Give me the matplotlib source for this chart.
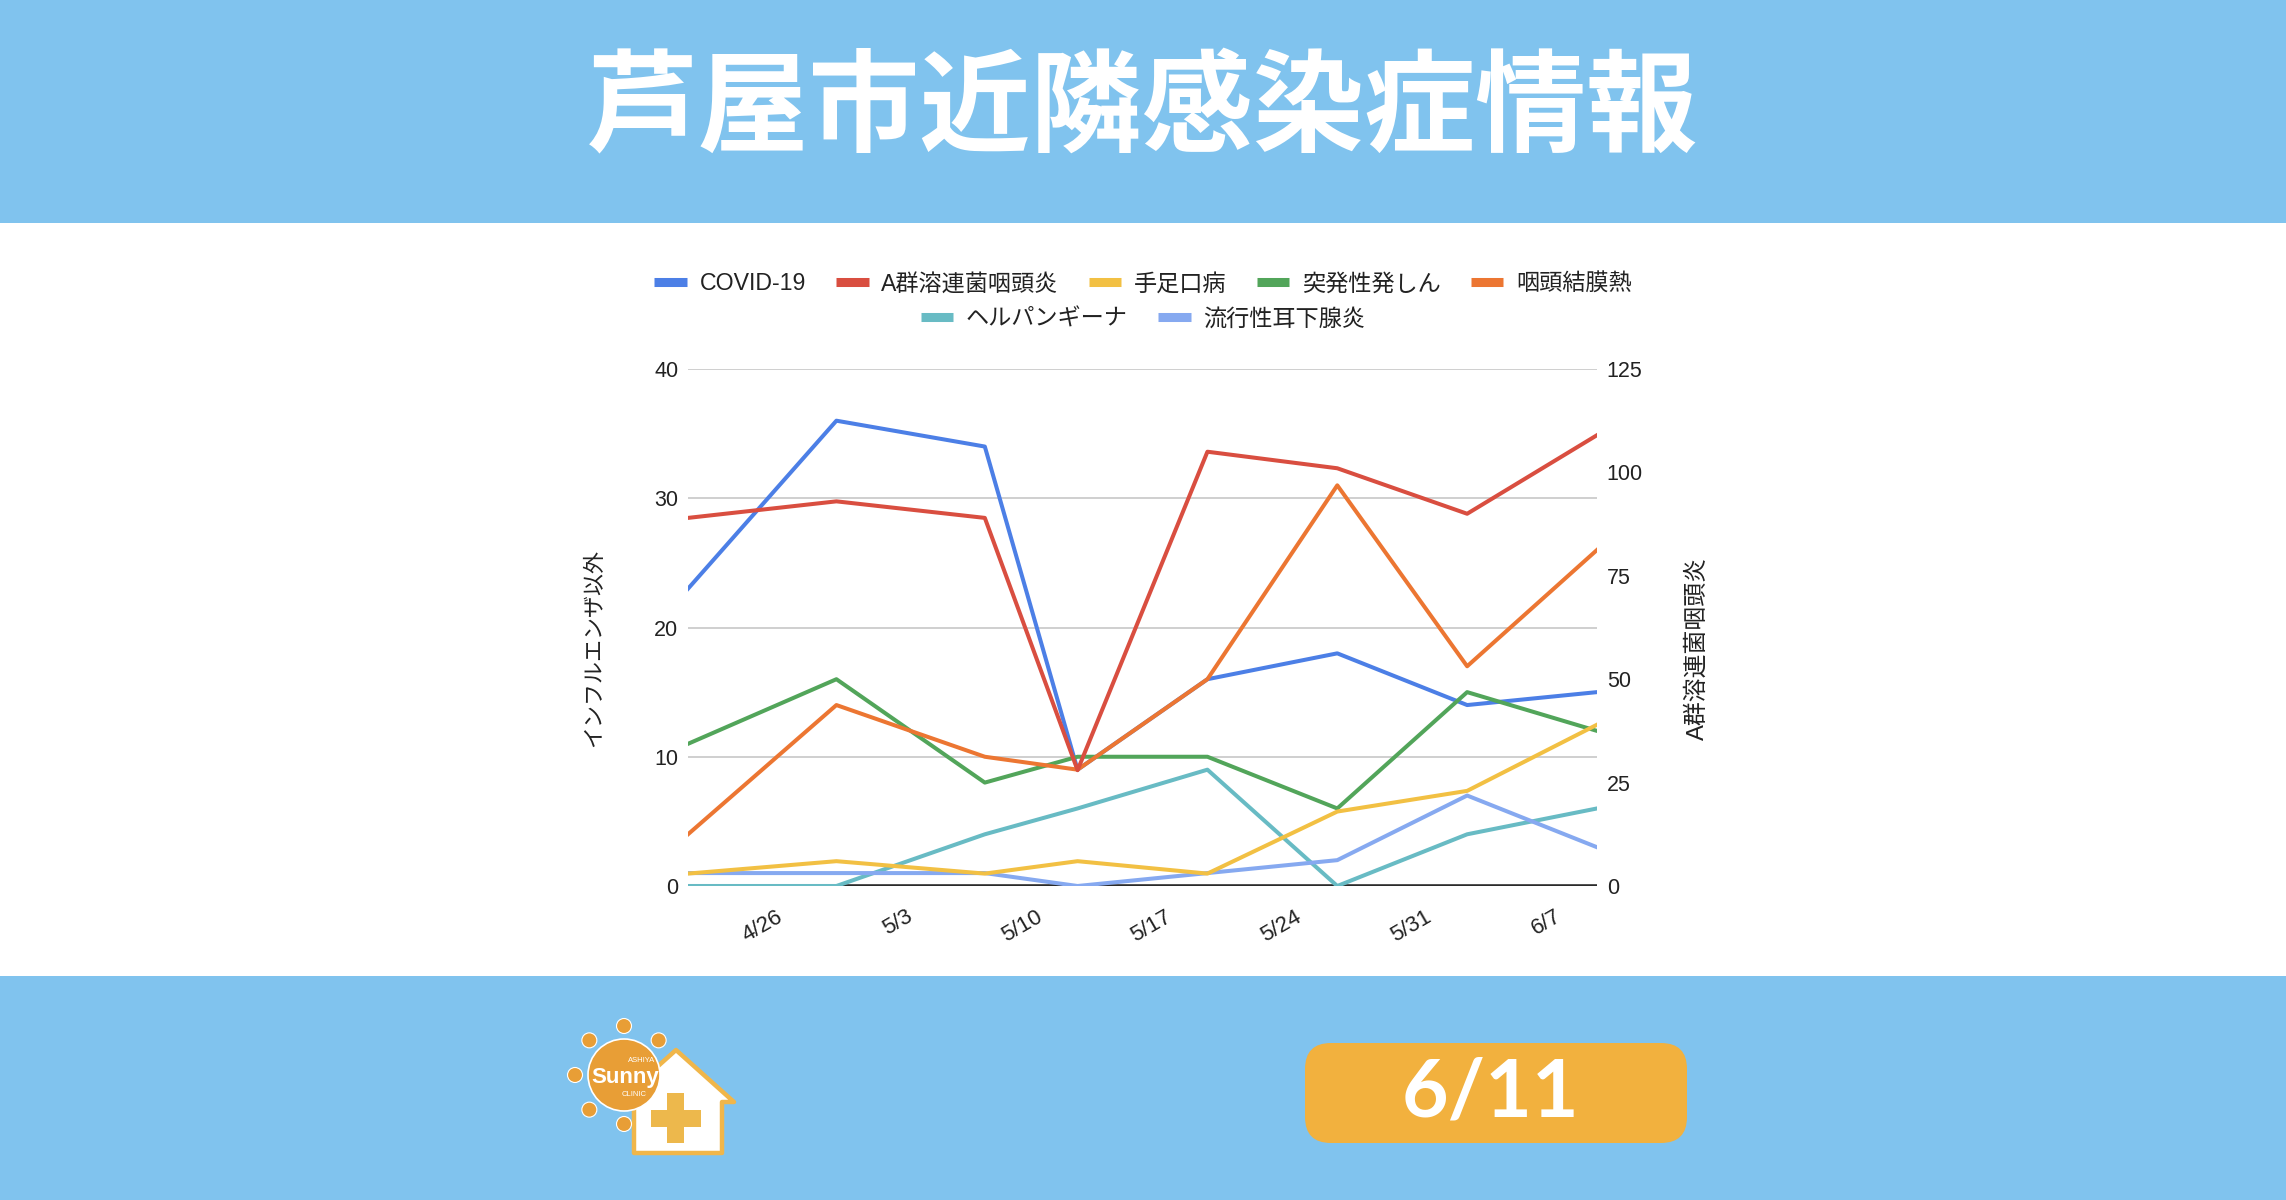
import datetime as dt
import numpy as np
import matplotlib
matplotlib.use("Agg")
import matplotlib.pyplot as plt
from matplotlib.patches import Rectangle, Circle, FancyBboxPatch, Polygon
from matplotlib.lines import Line2D

plt.rcParams['font.family'] = ['Liberation Sans', 'Noto Sans CJK JP']

# ---- データ（週ごとの報告数） ----
dates = [dt.date(2023, 4, 21), dt.date(2023, 4, 29), dt.date(2023, 5, 7),
         dt.date(2023, 5, 12), dt.date(2023, 5, 19), dt.date(2023, 5, 26),
         dt.date(2023, 6, 2), dt.date(2023, 6, 9)]
covid = [23, 36, 34, 9, 16, 18, 14, 15]
strep_a = [89, 93, 89, 28, 105, 101, 90, 109]      # 右軸
hfmd = [3, 6, 3, 6, 3, 18, 23, 39]                 # 右軸
roseola = [11, 16, 8, 10, 10, 6, 15, 12]
pcf = [4, 14, 10, 9, 16, 31, 17, 26]
herpangina = [0, 0, 4, 6, 9, 0, 4, 6]
mumps = [1, 1, 1, 0, 1, 2, 7, 3]

tick_dates = [dt.date(2023, 4, 26), dt.date(2023, 5, 3), dt.date(2023, 5, 10),
              dt.date(2023, 5, 17), dt.date(2023, 5, 24), dt.date(2023, 5, 31),
              dt.date(2023, 6, 7)]
tick_labels = ['4/26', '5/3', '5/10', '5/17', '5/24', '5/31', '6/7']
left_ticks = [0, 10, 20, 30, 40]
right_ticks = [0, 25, 50, 75, 100, 125]

title = '芦屋市近隣感染症情報'
date_label = '6/11'

BLUE_BG = '#80C3EE'
COLORS = {
    'COVID-19': '#4C7FE6',
    'A群溶連菌咽頭炎': '#D94E40',
    '手足口病': '#F2C043',
    '突発性発しん': '#52A55A',
    '咽頭結膜熱': '#EC7632',
    'ヘルパンギーナ': '#68BBC4',
    '流行性耳下腺炎': '#86A9F0',
}

W, H = 2286, 1200
fig = plt.figure(figsize=(W / 100, H / 100), dpi=100, facecolor='white')

# 背景（帯・タイトル・ロゴ・日付）
bg = fig.add_axes([0, 0, 1, 1], zorder=0)
bg.set_xlim(0, W)
bg.set_ylim(H, 0)
bg.axis('off')
bg.add_patch(Rectangle((0, 0), W, 223, color=BLUE_BG, lw=0))
bg.add_patch(Rectangle((0, 976), W, H - 976, color=BLUE_BG, lw=0))
bg.text(1143, 111, title, ha='center', va='center', fontsize=80,
        color='white', weight='bold', family=['Noto Sans CJK JP'])

# 日付ボックス
bg.add_patch(FancyBboxPatch((1305, 1043), 382, 100,
                            boxstyle='round,pad=0,rounding_size=26',
                            color='#F2B13E', lw=0))
bg.text(1490, 1093, date_label, ha='center', va='center', fontsize=58,
        color='white', weight='bold', family=['Lato', 'Noto Sans CJK JP'])

# ロゴ（家 + 十字 + 太陽）
house = Polygon([(634, 1153), (722, 1153), (722, 1102), (734, 1102),
                 (676, 1050), (618, 1102), (634, 1102)], closed=True,
                facecolor='white', edgecolor='#F0B64A', lw=3.2, joinstyle='round')
bg.add_patch(house)
bg.add_patch(Rectangle((667, 1093), 17, 50, color='#EDB84C', lw=0))
bg.add_patch(Rectangle((651, 1110), 50, 17, color='#EDB84C', lw=0))
sun_x, sun_y = 624, 1075
for ang in [90, 45, 135, 180, 225, 270]:
    a = np.radians(ang)
    bg.add_patch(Circle((sun_x + 49 * np.cos(a), sun_y - 49 * np.sin(a)), 7.5,
                        facecolor='#E89E36', edgecolor='white', lw=0.8))
bg.add_patch(Circle((sun_x, sun_y), 36, facecolor='#E89E36', edgecolor='white', lw=1.2))
bg.text(sun_x + 1, sun_y + 3, 'Sunny', ha='center', va='center', fontsize=16,
        color='white', weight='bold')
bg.text(sun_x + 18, sun_y - 14, 'ASHIYA', ha='center', va='center', fontsize=5.5,
        color='white')
bg.text(sun_x + 10, sun_y + 19, 'CLINIC', ha='center', va='center', fontsize=5.5,
        color='white')

# ---- グラフ ----
ax = fig.add_axes([688 / W, 1 - 886 / H, 909 / W, 517 / H], zorder=2)
ax.set_facecolor('none')
ax2 = ax.twinx()

lw = 2.9
ax.plot(dates, covid, color=COLORS['COVID-19'], lw=lw, zorder=3)
ax.plot(dates, roseola, color=COLORS['突発性発しん'], lw=lw, zorder=3)
ax.plot(dates, pcf, color=COLORS['咽頭結膜熱'], lw=lw, zorder=3)
ax.plot(dates, herpangina, color=COLORS['ヘルパンギーナ'], lw=lw, zorder=3)
ax.plot(dates, mumps, color=COLORS['流行性耳下腺炎'], lw=lw, zorder=3)
ax2.plot(dates, strep_a, color=COLORS['A群溶連菌咽頭炎'], lw=lw)
ax2.plot(dates, hfmd, color=COLORS['手足口病'], lw=lw)

ax.set_xlim(dates[0], dates[-1])
ax.set_ylim(0, 40)
ax2.set_ylim(0, 125)
ax.set_yticks(left_ticks)
ax2.set_yticks(right_ticks)
ax.set_xticks(tick_dates)
ax.set_xticklabels(tick_labels, rotation=30, ha='right', va='center',
                   rotation_mode='anchor')

ax.grid(axis='y', color='#CCCCCC', lw=1.3)
ax.set_axisbelow(True)
ax.axhline(0, color='#2B2B2B', lw=2.6, zorder=2)
for a in (ax, ax2):
    for s in a.spines.values():
        s.set_visible(False)
ax.tick_params(axis='y', length=0, pad=7, labelsize=15.5, labelcolor='#222222')
ax.tick_params(axis='x', length=0, pad=21, labelsize=16, labelcolor='#222222')
ax2.tick_params(axis='y', length=0, pad=7, labelsize=15.5, labelcolor='#222222')

ax.set_ylabel('インフルエンザ以外', fontsize=15.8, color='#222222')
ax.yaxis.set_label_coords(-0.103, 0.46)
ax.yaxis.label.set_verticalalignment('center')
ax2.set_ylabel('A群溶連菌咽頭炎', fontsize=17.2, color='#222222')
ax2.yaxis.set_label_coords(1.110, 0.46)
ax2.yaxis.label.set_verticalalignment('center')

# 凡例（2段）
names = list(COLORS.keys())
handles = [Line2D([], [], color=COLORS[n], lw=6.5, solid_capstyle='butt') for n in names]
leg_kw = dict(loc='center', frameon=False, fontsize=16.7, handlelength=1.4,
              handletextpad=0.55, columnspacing=1.3, borderpad=0, borderaxespad=0,
              labelcolor='#222222')
fig.legend(handles[:5], names[:5], bbox_to_anchor=(0.5, 1 - 284 / H), ncol=5, **leg_kw)
fig.legend(handles[5:], names[5:], bbox_to_anchor=(0.5, 1 - 319 / H), ncol=2, **leg_kw)

fig.savefig('out.png', dpi=100, facecolor='white')
